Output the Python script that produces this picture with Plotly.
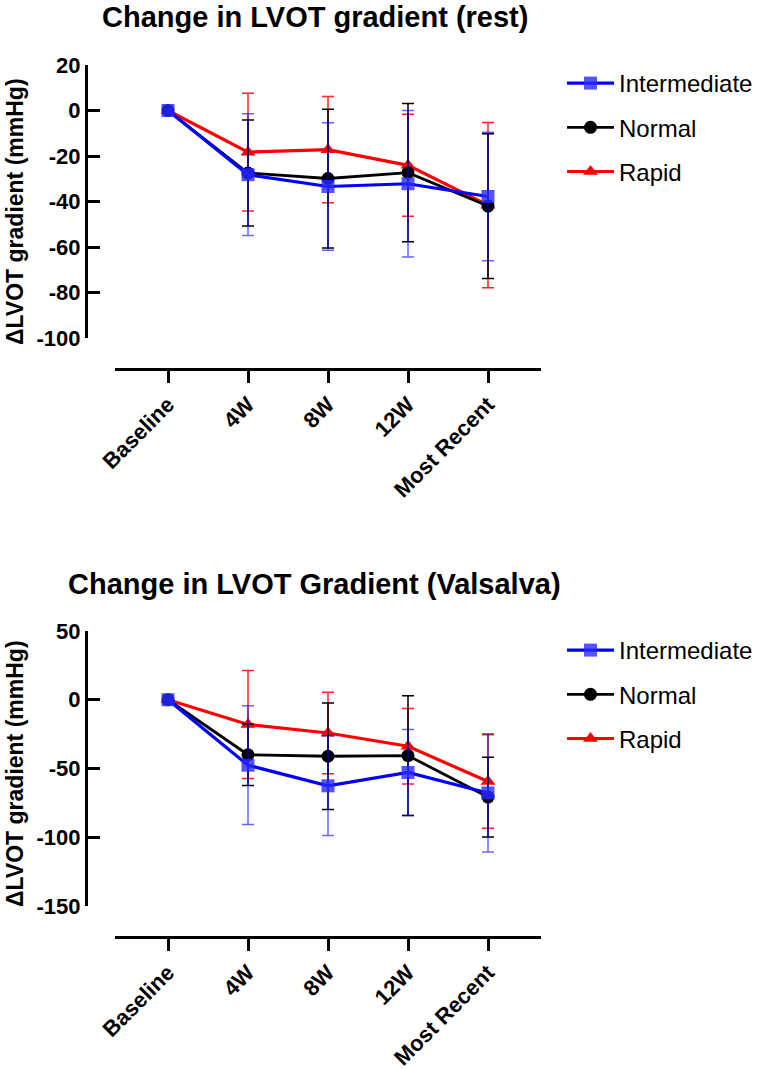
import plotly.graph_objects as go

categories = ["Baseline", "4W", "8W", "12W", "Most Recent"]
groups = ["Intermediate", "Normal", "Rapid"]

# Rest gradient change (mean, SD)
rest_intermediate = [0, -28.2, -33.4, -32.2, -37.8]
rest_intermediate_sd = [0, 26.8, 28.0, 32.2, 28.2]
rest_normal = [0, -27.5, -29.9, -27.3, -42.0]
rest_normal_sd = [0, 23.3, 30.5, 30.4, 31.8]
rest_rapid = [0, -18.3, -17.2, -24.1, -41.6]
rest_rapid_sd = [0, 25.9, 23.4, 22.4, 36.3]

# Valsalva gradient change (mean, SD)
vals_intermediate = [0, -47.6, -62.6, -52.9, -67.8]
vals_intermediate_sd = [0, 43.2, 36.2, 31.3, 43.0]
vals_normal = [0, -40.0, -41.1, -40.6, -70.8]
vals_normal_sd = [0, 22.3, 38.7, 43.5, 29.0]
vals_rapid = [0, -18.0, -24.2, -33.8, -59.5]
vals_rapid_sd = [0, 39.3, 29.6, 27.4, 34.0]

rest_ticks = [20, 0, -20, -40, -60, -80, -100]
vals_ticks = [50, 0, -50, -100, -150]

FONT = "Liberation Sans, Arial, sans-serif"
W, H = 762, 1069

styles = {
    "Intermediate": dict(line="#0000FF", marker="rgba(40,40,255,0.80)", err="rgba(0,0,255,0.6)", symbol="square", size=13, lw=3.2),
    "Normal": dict(line="#000000", marker="#000000", err="#000000", symbol="circle", size=13, lw=2.8),
    "Rapid": dict(line="#FF0000", marker="#FF0000", err="rgba(255,0,0,0.85)", symbol="triangle-up", size=13, lw=3.2),
}
rank = {"Intermediate": 1, "Normal": 2, "Rapid": 3}

fig = go.Figure()

def add_panel(series, xa, ya, legend):
    # draw order: Rapid, Normal, Intermediate (blue on top)
    for name in ["Rapid", "Normal", "Intermediate"]:
        vals, sd = series[name]
        s = styles[name]
        fig.add_trace(go.Scatter(
            x=categories, y=vals, name=name, mode="lines+markers",
            xaxis=xa, yaxis=ya, legend=legend, legendrank=rank[name],
            legendgroup=legend + name,
            line=dict(color=s["line"], width=s["lw"]),
            marker=dict(symbol=s["symbol"], size=s["size"], color=s["marker"], line=dict(width=0)),
            error_y=dict(type="data", array=sd, visible=True, color=s["err"], thickness=1.5, width=6),
            cliponaxis=False,
        ))

add_panel({"Intermediate": (rest_intermediate, rest_intermediate_sd),
           "Normal": (rest_normal, rest_normal_sd),
           "Rapid": (rest_rapid, rest_rapid_sd)}, "x", "y", "legend")
add_panel({"Intermediate": (vals_intermediate, vals_intermediate_sd),
           "Normal": (vals_normal, vals_normal_sd),
           "Rapid": (vals_rapid, vals_rapid_sd)}, "x2", "y2", "legend2")

def py(p):
    return 1 - p / H

def px(p):
    return p / W

xcommon = dict(
    type="category", categoryorder="array", categoryarray=categories,
    range=[-0.6625, 4.6625], domain=[px(115), px(541)],
    showline=True, linewidth=3, linecolor="black",
    ticks="outside", ticklen=12, tickwidth=3, tickcolor="black",
    tickangle=-45, tickfont=dict(family=FONT, size=22, color="black", weight="bold"),
    showgrid=False, zeroline=False, anchor="free",
)
ycommon = dict(
    showline=True, linewidth=3, linecolor="black",
    ticks="inside", ticklen=12, tickwidth=3, tickcolor="black",
    tickfont=dict(family=FONT, size=22, color="black", weight="bold"),
    showgrid=False, zeroline=False, anchor="free", position=px(86),
)

legend_common = dict(
    font=dict(family=FONT, size=24, color="black"),
    bgcolor="rgba(0,0,0,0)", borderwidth=0,
    xanchor="left", yanchor="top", itemwidth=47,
    tracegroupgap=10, itemclick=False,
)

fig.update_layout(
    width=W, height=H,
    margin=dict(l=0, r=0, t=0, b=0, autoexpand=False),
    paper_bgcolor="white", plot_bgcolor="white",
    font=dict(family=FONT, color="black"),
    showlegend=True,
    xaxis=dict(**xcommon, position=py(369)),
    yaxis=dict(**ycommon, range=[-100, 20], domain=[py(338), py(65)],
               tickvals=rest_ticks, ticktext=[str(t) for t in rest_ticks]),
    xaxis2=dict(**xcommon, position=py(937)),
    yaxis2=dict(**ycommon, range=[-150, 50], domain=[py(906), py(631)],
                tickvals=vals_ticks, ticktext=[str(t) for t in vals_ticks]),
    legend=dict(**legend_common, x=px(562), y=py(61)),
    legend2=dict(**legend_common, x=px(562), y=py(628)),
    annotations=[
        dict(text="<b>Change in LVOT gradient (rest)</b>", x=px(315), y=py(17),
             xref="paper", yref="paper", xanchor="center", yanchor="middle",
             showarrow=False, font=dict(family=FONT, size=29, color="black")),
        dict(text="<b>Change in LVOT Gradient (Valsalva)</b>", x=px(314), y=py(584),
             xref="paper", yref="paper", xanchor="center", yanchor="middle",
             showarrow=False, font=dict(family=FONT, size=29, color="black")),
        dict(text="<b>ΔLVOT gradient (mmHg)</b>", x=px(15), y=py(212), textangle=-90,
             xref="paper", yref="paper", xanchor="center", yanchor="middle",
             showarrow=False, font=dict(family=FONT, size=23, color="black")),
        dict(text="<b>ΔLVOT gradient (mmHg)</b>", x=px(15), y=py(774), textangle=-90,
             xref="paper", yref="paper", xanchor="center", yanchor="middle",
             showarrow=False, font=dict(family=FONT, size=23, color="black")),
    ],
)

fig.write_html("out.html")
